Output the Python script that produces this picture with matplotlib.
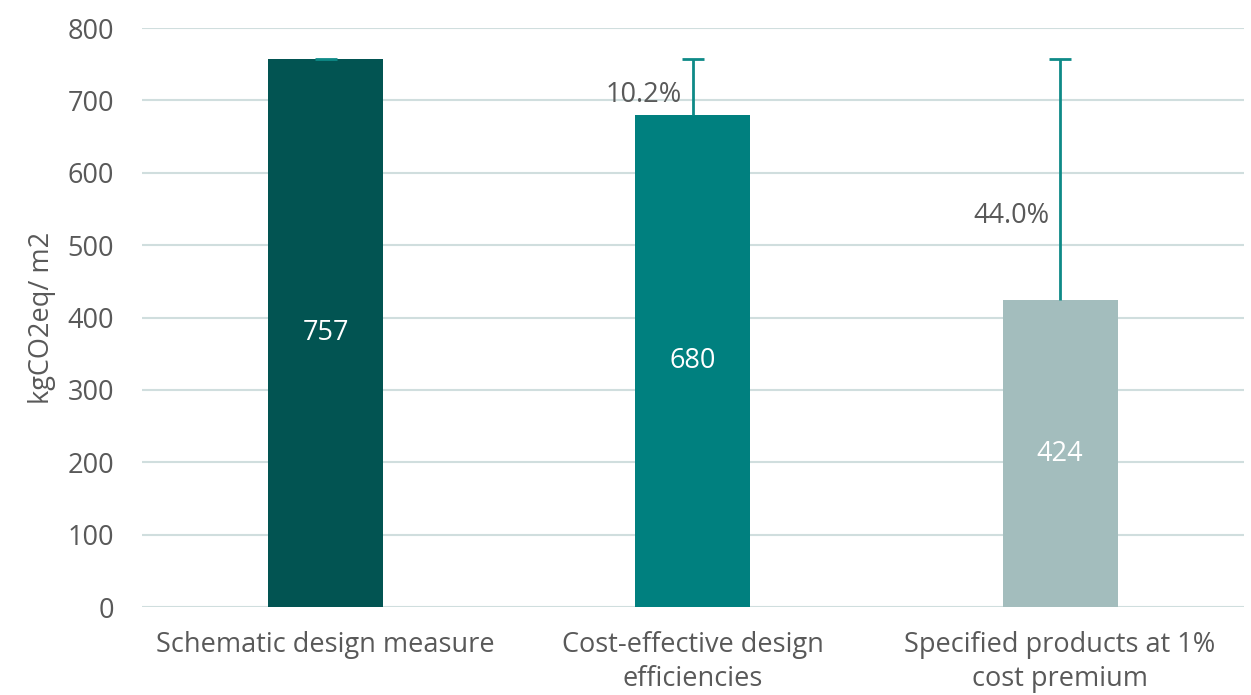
import matplotlib.pyplot as plt

plt.rcParams['font.family'] = ['Open Sans', 'DejaVu Sans']

categories = ['Schematic design measure',
              'Cost-effective design\nefficiencies',
              'Specified products at 1%\ncost premium']
values = [757, 680, 424]
baseline = 757
pct_labels = ['', '10.2%', '44.0%']
pct_y = [0, 707, 540]
colors = ['#025452', '#00807F', '#A3BDBD']
text_color = '#595959'

fig = plt.figure(figsize=(12.51, 6.95), dpi=100)
ax = fig.add_axes([0.1135, 0.1266, 0.8807, 0.8331])

x = list(range(len(categories)))
ax.bar(x, values, width=0.313, color=colors, zorder=2)

# error bars from each bar up to the baseline value, cap only on top
errs = [baseline - v for v in values]
ax.errorbar(x, values, yerr=[[0] * len(values), errs], fmt='none',
            ecolor='#0E8A87', elinewidth=2, capsize=0, zorder=3)
ax.plot(x, [baseline] * len(x), linestyle='none', marker='_', markersize=16,
        markeredgewidth=2, color='#0E8A87', zorder=3)

for xi, v in zip(x, values):
    ax.text(xi, v / 2, str(v), ha='center', va='center', color='white', fontsize=19.5)

for xi, lab, yy in zip(x, pct_labels, pct_y):
    if lab:
        ax.text(xi - 0.03, yy, lab, ha='right', va='center', color=text_color, fontsize=19.5)

ax.set_xlim(-0.5, 2.5)
ax.set_ylim(0, 800)
ax.set_yticks(range(0, 801, 100))
ax.set_xticks(x)
ax.set_xticklabels(categories, fontsize=19.5, color=text_color, linespacing=1.3)
ax.tick_params(axis='y', labelsize=19.5, labelcolor=text_color, length=0, pad=20)
ax.tick_params(axis='x', length=0, pad=17)
ax.grid(axis='y', color='#D0DEDE', linewidth=1.5, zorder=0)
ax.axhline(0, color='#C8F2F2', linewidth=2, zorder=1)
for s in ax.spines.values():
    s.set_visible(False)
ax.set_ylabel('kgCO2eq/ m2', fontsize=19.5, color=text_color, labelpad=8)

fig.savefig('out.png', dpi=100)
